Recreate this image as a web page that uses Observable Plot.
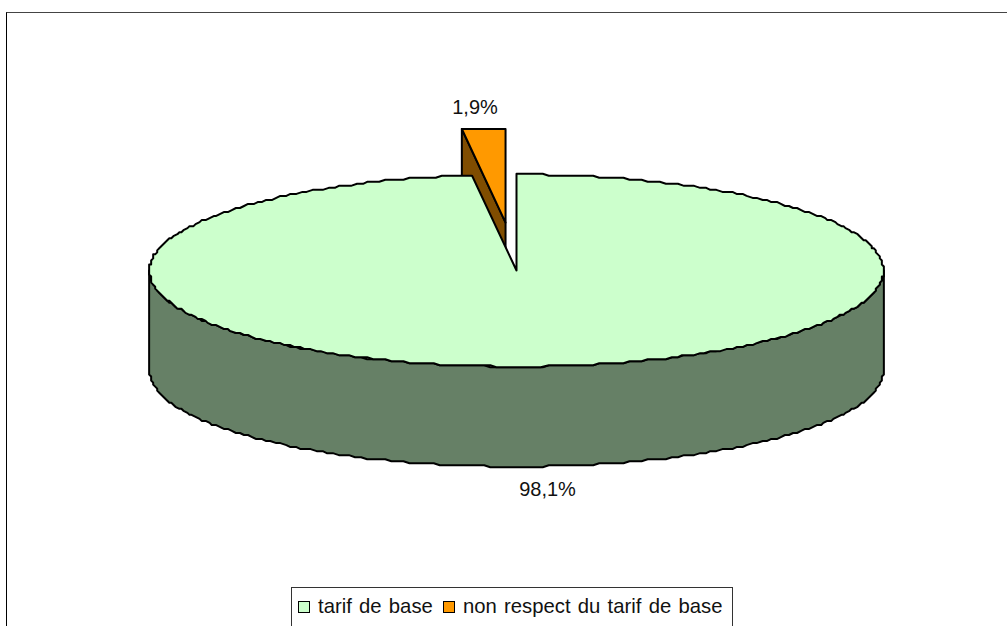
<!DOCTYPE html>
<html><head><meta charset="utf-8">
<script src="https://cdn.jsdelivr.net/npm/d3@7"></script>
<script src="https://cdn.jsdelivr.net/npm/@observablehq/plot@0.6"></script>
<style>
html,body{margin:0;padding:0;background:#fff;overflow:hidden}
#page{position:relative;width:1007px;height:626px;overflow:hidden;font-family:"Liberation Sans",Arial,sans-serif;color:#111}
#frame{position:absolute;left:6px;top:12px;width:1001px;height:614px;box-sizing:border-box;border-left:1px solid #000;border-top:1px solid #444}
#chart{position:absolute;left:0;top:0}
#legend{position:absolute;left:291px;top:587px;width:442px;height:60px;box-sizing:border-box;border:1px solid #333;background:#fff;font-size:20.3px;word-spacing:1.6px;white-space:nowrap}
#legend i{position:absolute;top:13px;width:10px;height:10px;border:1.5px solid #000}
#legend span{position:absolute;top:6px;line-height:24px}
</style></head><body>
<div id="page"><div id="frame"></div><div id="chart"></div><div id="legend"></div></div>
<script>
// Data
const categories = ["tarif de base", "non respect du tarif de base"];
const shares = [98.1, 1.9];
const shareLabels = ["98,1%", "1,9%"];
const topColors = ["#CCFFCC", "#FF9900"];
const sideColors = ["#668066", "#804D00"];

// Layout (unit-ellipse coordinates)
const depth = 100 / 96, explode = 0.5, sliceSquash = 0.975, rimStep = 1, gridX = 0.0055, gridY = 0.021;
const total = d3.sum(shares);
const sweep = shares[1] / total * 2 * Math.PI;
const snap = (v, g) => Math.round(v / g) * g;
const pt = a => ({x: snap(Math.sin(a), gridX), y: snap(Math.cos(a), gridY)});
const arc = (a0, a1) => {
  const n = Math.max(1, Math.round(Math.abs(a1 - a0) / (rimStep * Math.PI / 180)));
  return d3.range(n + 1).map(i => pt(a0 + (a1 - a0) * i / n));
};
const down = (p, d) => ({x: p.x, y: p.y - d});

// main slice runs clockwise from 12 o'clock round to the gap
const mainRim = arc(0, 2 * Math.PI - sweep);
const mainTop = [{x: 0, y: 0}, ...mainRim, {x: 0, y: 0}];
const frontRim = arc(Math.PI / 2, 3 * Math.PI / 2);
const mainWall = [...frontRim, ...frontRim.slice().reverse().map(p => down(p, depth))];

// exploded slice: pulled along its bisector
const mid = -sweep / 2;
const ox = Math.sin(mid) * explode, oy = Math.cos(mid) * explode;
const shift = p => ({x: p.x + ox, y: p.y * sliceSquash + oy});
const sliceTop = [{x: 0, y: 0}, {x: 0, y: 1}, {x: Math.sin(-sweep), y: 1}].map(shift);
const sliceSide = [sliceTop[2], sliceTop[0], down(sliceTop[0], depth), down(sliceTop[2], depth)];

const poly = (pts, fill) => Plot.line([...pts, pts[0]], {x: "x", y: "y", fill, stroke: "#000", strokeWidth: 2, strokeLinejoin: "round"});
const labelsData = [
  {x: 0.0845, y: -2.28, t: shareLabels[0]},
  {x: -0.113, y: 1.7, t: shareLabels[1]}
];

const svg = Plot.plot({
  width: 1007, height: 626, margin: 0,
  style: {background: "transparent"},
  x: {domain: [-1, 1], range: [149, 883], axis: null},
  y: {domain: [1, -1], range: [174, 366], axis: null},
  marks: [
    poly(mainWall, sideColors[0]),
    poly(sliceSide, sideColors[1]),
    poly(mainTop, topColors[0]),
    poly(sliceTop, topColors[1]),
    Plot.text(labelsData, {x: "x", y: "y", text: "t", fontSize: 20, fontFamily: "Liberation Sans", fill: "#111"})
  ]
});
document.getElementById("chart").append(svg);

const lg = document.getElementById("legend");
const swX = [6, 151], txtX = [26, 171];
categories.forEach((c, i) => {
  const s = document.createElement("i");
  s.style.left = swX[i] + "px"; s.style.background = topColors[i];
  const t = document.createElement("span");
  t.style.left = txtX[i] + "px"; t.textContent = c;
  lg.append(s, t);
});
</script></body></html>
